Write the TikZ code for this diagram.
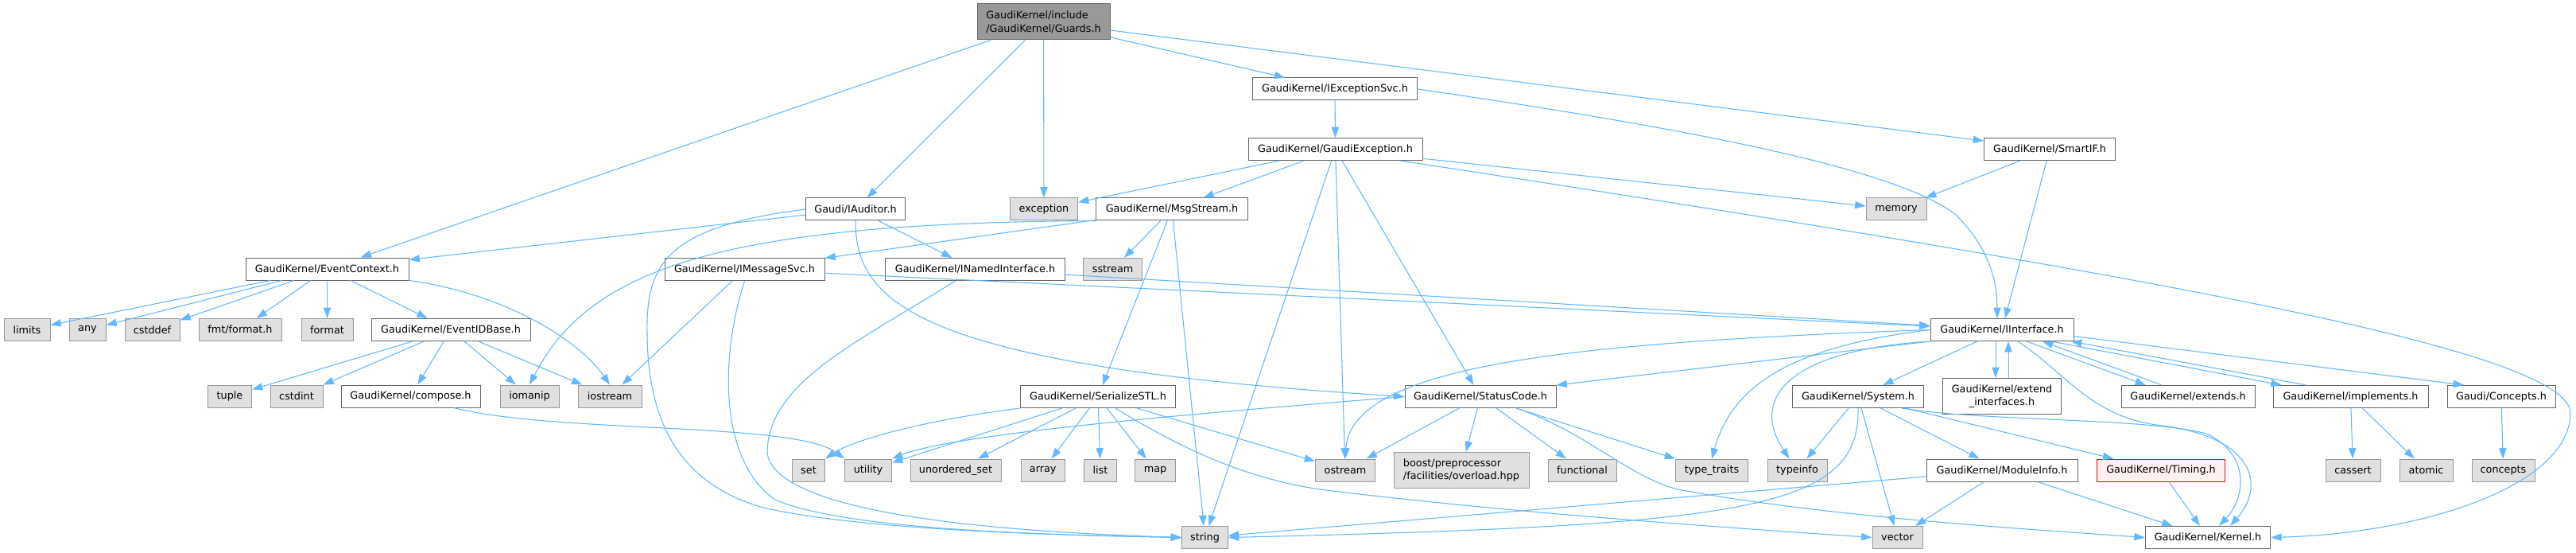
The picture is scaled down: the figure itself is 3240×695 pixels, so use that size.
\documentclass[tikz,border=0pt]{standalone}
\usepackage{fontspec}
\setmainfont{DejaVu Sans}
\usetikzlibrary{arrows.meta}
\definecolor{edgeblue}{HTML}{63B8FF}
\definecolor{boxgrey}{HTML}{666666}
\definecolor{sysgrey}{HTML}{999999}
\definecolor{sysfill}{HTML}{E0E0E0}
\definecolor{hotfill}{HTML}{FFF0F0}
\begin{document}
\begin{tikzpicture}[x=0.75pt,y=-0.75pt,
  file/.style={draw=boxgrey,fill=white,line width=0.75pt,inner sep=0pt,
    minimum height=21pt,minimum width=#1*0.75pt,font=\fontsize{9.6}{12.5}\selectfont},
  sys/.style={file=#1,draw=sysgrey,fill=sysfill},
  root/.style={file=#1,fill=sysgrey,minimum height=33.75pt,align=left},
  hot/.style={file=#1,draw=red,fill=hotfill},
  dep/.style={draw,color=edgeblue,line width=0.8pt,-{Triangle[length=10pt,width=7pt]}},
  every edge/.append style={color=edgeblue}]
\useasboundingbox (0,0) rectangle (3240,695);

\node[root=167] (guards) at (1312.5,27.5) {GaudiKernel/include\\/GaudiKernel/Guards.h};
\node[file=207.5] (iexcsvc) at (1679,112) {GaudiKernel/IExceptionSvc.h};
\node[file=219] (gaudiexc) at (1679.5,187.5) {GaudiKernel/GaudiException.h};
\node[file=165] (smartif) at (2578,187.5) {GaudiKernel/SmartIF.h};
\node[file=125.5] (iauditor) at (1076,263) {Gaudi/IAuditor.h};
\node[sys=85] (exception) at (1313,263) {exception};
\node[file=190.6] (msgstream) at (1474,263) {GaudiKernel/MsgStream.h};
\node[sys=76] (memory) at (2385,263) {memory};
\node[file=205] (evctx) at (411.5,338) {GaudiKernel/EventContext.h};
\node[file=201] (imsgsvc) at (936.5,338.5) {GaudiKernel/IMessageSvc.h};
\node[file=226] (inamed) at (1226.5,338.5) {GaudiKernel/INamedInterface.h};
\node[sys=74] (sstream) at (1399.6,338.5) {sstream};
\node[sys=58] (limits) at (34,414.5) {limits};
\node[sys=46] (any) at (110,414.5) {any};
\node[sys=69] (cstddef) at (191.5,414.5) {cstddef};
\node[sys=104] (fmtformat) at (302,414.5) {fmt/format.h};
\node[sys=65] (format) at (411.5,414.5) {format};
\node[file=200] (evidbase) at (567,414.5) {GaudiKernel/EventIDBase.h};
\node[file=180] (iinterface) at (2518,414.5) {GaudiKernel/IInterface.h};
\node[sys=55] (tuple) at (289,498) {tuple};
\node[sys=66] (cstdint) at (373,498) {cstdint};
\node[file=175] (compose) at (516.5,498) {GaudiKernel/compose.h};
\node[sys=74] (iomanip) at (666,498) {iomanip};
\node[sys=80] (iostream) at (767,498) {iostream};
\node[file=195] (serialize) at (1381,498.5) {GaudiKernel/SerializeSTL.h};
\node[file=190] (statuscode) at (1862,498.5) {GaudiKernel/StatusCode.h};
\node[file=165] (system) at (2337,498.5) {GaudiKernel/System.h};
\node[file=149,minimum height=33.75pt,align=center] (extendif) at (2518,498) {GaudiKernel/extend\\\_interfaces.h};
\node[file=168] (extends) at (2752,498.5) {GaudiKernel/extends.h};
\node[file=195] (implements) at (2956.5,498.5) {GaudiKernel/implements.h};
\node[file=136] (gconcepts) at (3146,498.5) {Gaudi/Concepts.h};
\node[sys=41] (set) at (1017,591) {set};
\node[sys=59] (utility) at (1092,591) {utility};
\node[sys=114] (unorderedset) at (1202,591) {unordered\_set};
\node[sys=55] (array) at (1311.7,591) {array};
\node[sys=41] (list) at (1384,591) {list};
\node[sys=51] (map) at (1453,591) {map};
\node[sys=75] (ostream) at (1692,591) {ostream};
\node[sys=170,minimum height=33.75pt,align=left] (boost) at (1838,591) {boost/preprocessor\\/facilities/overload.hpp};
\node[sys=86] (functional) at (1990,591) {functional};
\node[sys=91] (typetraits) at (2153,591) {type\_traits};
\node[sys=75] (typeinfo) at (2260.5,591) {typeinfo};
\node[file=190] (moduleinfo) at (2518,591) {GaudiKernel/ModuleInfo.h};
\node[hot=161] (timing) at (2718,591) {GaudiKernel/Timing.h};
\node[sys=69] (cassert) at (2959.5,591) {cassert};
\node[sys=67] (atomic) at (3051.5,591) {atomic};
\node[sys=79] (concepts) at (3148.5,591) {concepts};
\node[sys=58] (string) at (1515.5,675.5) {string};
\node[sys=63] (vector) at (2386.5,675.5) {vector};
\node[file=157.5] (kernel) at (2777,675.5) {GaudiKernel/Kernel.h};

\draw[dep] (guards) edge (evctx);
\draw[dep] (guards) edge (iauditor);
\draw[dep] (guards) edge (exception);
\draw[dep] (guards) edge (iexcsvc);
\draw[dep] (guards) edge (smartif);

\draw[dep] (evctx) edge (limits);
\draw[dep] (evctx) edge (any);
\draw[dep] (evctx) edge (cstddef);
\draw[dep] (evctx) edge (fmtformat);
\draw[dep] (evctx) edge (format);
\draw[dep] (evctx) edge (evidbase);
\draw[dep] (evctx.south east) .. controls (640,370) and (730,430) .. (iostream.north);

\draw[dep] (evidbase) edge (tuple);
\draw[dep] (evidbase) edge (cstdint);
\draw[dep] (evidbase) edge (compose);
\draw[dep] (evidbase) edge (iomanip);
\draw[dep] (evidbase) edge (iostream);
\draw[dep] (compose.-15) .. controls (700,545) and (1000,530) .. (utility.north west);

\draw[dep] (iauditor) edge (evctx);
\draw[dep] (iauditor) edge (inamed);
\draw[dep] (iauditor.south) .. controls (1076,380) and (1150,460) .. (statuscode.west);
\draw[dep] (iauditor.west) .. controls (840,285) and (812,330) .. (814,420)
  .. controls (815,560) and (880,615) .. (960,638) .. controls (1080,665) and (1300,672) .. (string.west);

\draw[dep] (msgstream) edge (imsgsvc);
\draw[dep] (msgstream) edge (serialize);
\draw[dep] (msgstream) edge (sstream);
\draw[dep] (msgstream) edge (string);
\draw[dep] (msgstream.south west) .. controls (900,280) and (740,340) .. (iomanip.north);

\draw[dep] (imsgsvc) edge (iinterface);
\draw[dep] (imsgsvc) edge (iostream);
\draw[dep] (imsgsvc.south) .. controls (905,450) and (905,580) .. (975,628)
  .. controls (1060,665) and (1300,672) .. (string.west);
\draw[dep] (inamed) edge (iinterface);
\draw[dep] ([shift={(-25,0)}]inamed.south) .. controls (1080,430) and (965,480) .. (965,570)
  .. controls (975,630) and (1150,665) .. (string.west);

\draw[dep] (iexcsvc) edge (gaudiexc);
\draw[dep] (iexcsvc.east) .. controls (2150,165) and (2390,215) .. (2460,270)
  .. controls (2500,310) and (2512,350) .. ([shift={(-6,0)}]iinterface.north);
\draw[dep] (gaudiexc) edge (exception);
\draw[dep] (gaudiexc) edge (msgstream);
\draw[dep] (gaudiexc) edge (string);
\draw[dep] (gaudiexc) edge (ostream);
\draw[dep] (gaudiexc) edge (statuscode);
\draw[dep] (gaudiexc) edge (memory);
\draw[dep] (gaudiexc.-10) .. controls (2700,345) and (3235,440) .. (3233,520)
  .. controls (3231,610) and (3050,670) .. (kernel.east);
\draw[dep] (smartif) edge (memory);
\draw[dep] (smartif) edge (iinterface);

\draw[dep] (iinterface.west) .. controls (2000,430) and (1700,455) .. (ostream.north);
\draw[dep] (iinterface.south west) -- (statuscode.north east);
\draw[dep] (iinterface.west) .. controls (2260,435) and (2180,480) .. (typetraits.north);
\draw[dep] (iinterface.south west) .. controls (2250,440) and (2200,500) .. ([shift={(-10,0)}]typeinfo.north);
\draw[dep] (iinterface) edge (system);
\draw[dep] ([shift={(-8,0)}]iinterface.south) -- ([shift={(-8,0)}]extendif.north);
\draw[dep] ([shift={(8,0)}]extendif.north) -- ([shift={(8,0)}]iinterface.south);
\draw[dep] ([shift={(31,0)}]iinterface.south) -- ([shift={(-53,0)}]extends.north);
\draw[dep] ([shift={(-33,0)}]extends.north) -- ([shift={(51,0)}]iinterface.south);
\draw[dep] ([shift={(62,0)}]iinterface.south) -- ([shift={(-87,0)}]implements.north);
\draw[dep] ([shift={(-56,0)}]implements.north) -- ([shift={(87,0)}]iinterface.south);
\draw[dep] ([shift={(0,8)}]iinterface.east) -- ([shift={(-47,0)}]gconcepts.north);
\draw[dep] ([shift={(20,0)}]iinterface.south) .. controls (2600,470) and (2630,525) .. (2720,535)
  .. controls (2835,550) and (2850,610) .. ([shift={(28,0)}]kernel.north);

\draw[dep] (system) edge (typeinfo);
\draw[dep] (system) edge (vector);
\draw[dep] (system) edge (moduleinfo);
\draw[dep] (system) edge (timing);
\draw[dep] (system.south) .. controls (2340,640) and (2200,660) .. (string.east);
\draw[dep] ([shift={(55,0)}]system.south) .. controls (2500,530) and (2700,525) .. (2775,545)
  .. controls (2830,570) and (2825,625) .. ([shift={(14,0)}]kernel.north);
\draw[dep] (moduleinfo) edge (string);
\draw[dep] (moduleinfo) edge (vector);
\draw[dep] (moduleinfo) edge (kernel);
\draw[dep] (timing) edge (kernel);

\draw[dep] (statuscode) edge (ostream);
\draw[dep] (statuscode) edge (boost);
\draw[dep] (statuscode) edge (functional);
\draw[dep] ([shift={(45,0)}]statuscode.south) -- (typetraits.north west);
\draw[dep] (statuscode.west) .. controls (1500,520) and (1200,545) .. (utility.north east);
\draw[dep] ([shift={(45,0)}]statuscode.south) .. controls (1990,540) and (2050,600) .. (2110,615)
  .. controls (2300,650) and (2550,665) .. (kernel.west);

\draw[dep] (serialize.south west) .. controls (1150,530) and (1070,555) .. (set.north east);
\draw[dep] (serialize) edge (utility);
\draw[dep] (serialize) edge (unorderedset);
\draw[dep] (serialize) edge (array);
\draw[dep] (serialize) edge (list);
\draw[dep] (serialize) edge (map);
\draw[dep] (serialize) edge (ostream);
\draw[dep] ([shift={(22,0)}]serialize.south) .. controls (1480,560) and (1560,600) .. (1660,615)
  .. controls (1900,645) and (2200,665) .. (vector.west);

\draw[dep] (implements) edge (cassert);
\draw[dep] (implements) edge (atomic);
\draw[dep] (gconcepts) edge (concepts);
\end{tikzpicture}
\end{document}
